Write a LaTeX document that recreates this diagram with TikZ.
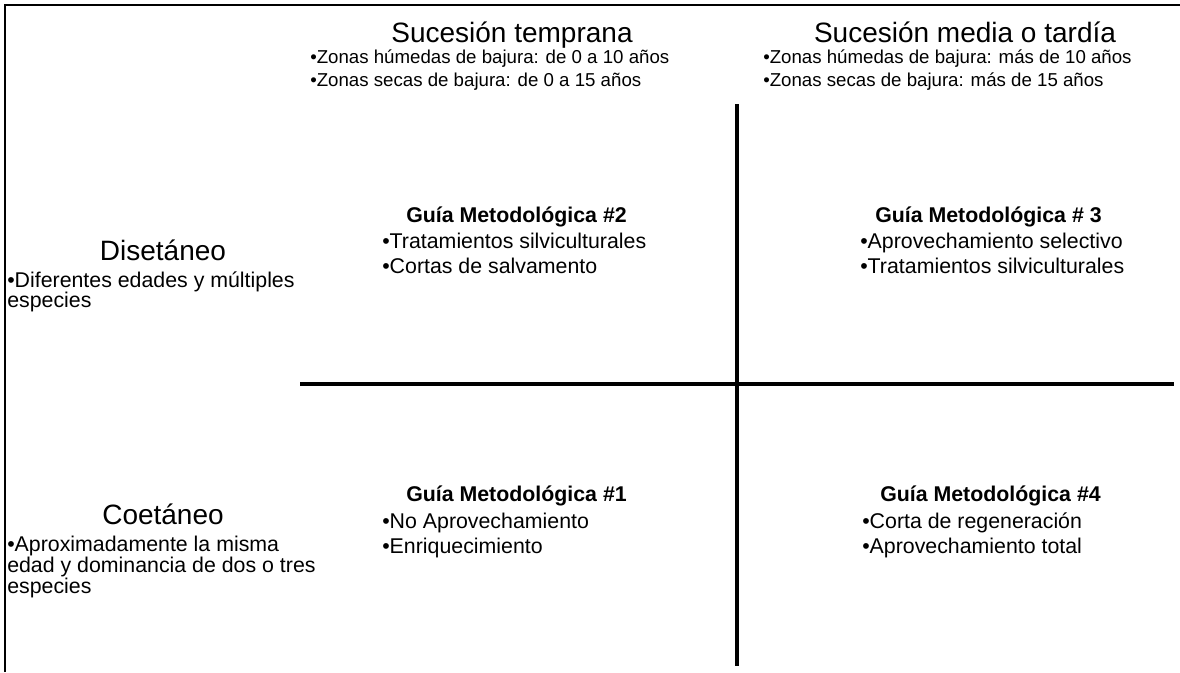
\documentclass[tikz,border=0pt]{standalone}
\usepackage{fontspec}
\setmainfont{Liberation Sans}
\begin{document}
\begin{tikzpicture}[x=0.75pt,y=-0.75pt,
  title/.style={font=\fontsize{21}{25}\selectfont, anchor=base, inner sep=0pt},
  small/.style={font=\fontsize{14}{17}\selectfont, anchor=base west, inner sep=0pt},
  item/.style={font=\fontsize{16}{19}\selectfont, anchor=base west, inner sep=0pt},
  head/.style={font=\bfseries\fontsize{16}{19}\selectfont, anchor=base west, inner sep=0pt},
  axis/.style={line width=2.4pt, line cap=butt},
  frame/.style={line width=1.6pt}]
\useasboundingbox (0,0) rectangle (1180,672);
% frame
\coordinate (fbl) at (5,672);
\coordinate (ftl) at (5,5);
\coordinate (ftr) at (1180,5);
\draw[frame] (fbl) -- (ftl) -- (ftr);
% axes
\coordinate (vtop) at (737,104);
\coordinate (vbot) at (737,666);
\coordinate (hl) at (300,384);
\coordinate (hr) at (1174,384);
\draw[axis] (vtop) -- (vbot);
\draw[axis] (hl) -- (hr);
% column headers
\node[title] (t1) at (512,42) {Sucesión temprana};
\node[small] (b1) at (310,63) {•Zonas húmedas de bajura: de 0 a 10 años};
\node[small] (b2) at (310,86) {•Zonas secas de bajura: de 0 a 15 años};
\node[title] (t2) at (965,42) {Sucesión media o tardía};
\node[small] (b3) at (763,63) {•Zonas húmedas de bajura: más de 10 años};
\node[small] (b4) at (763,86) {•Zonas secas de bajura: más de 15 años};
% row headers
\node[title] (r1) at (163,260) {Disetáneo};
\node[item] (r1a) at (7,287) {•Diferentes edades y múltiples};
\node[item] (r1b) at (7,307) {especies};
\node[title] (r2) at (163,524) {Coetáneo};
\node[item] (r2a) at (7,551) {•Aproximadamente la misma};
\node[item] (r2b) at (7,572) {edad y dominancia de dos o tres};
\node[item] (r2c) at (7,593) {especies};
% quadrants
\node[head] (g2) at (406,222) {Guía Metodológica \#2};
\node[item] (g2a) at (382,248) {•Tratamientos silviculturales};
\node[item] (g2b) at (382,273) {•Cortas de salvamento};
\node[head] (g3) at (875,222) {Guía Metodológica \# 3};
\node[item] (g3a) at (860,248) {•Aprovechamiento selectivo};
\node[item] (g3b) at (860,273) {•Tratamientos silviculturales};
\node[head] (g1) at (406,501) {Guía Metodológica \#1};
\node[item] (g1a) at (382,528) {•No Aprovechamiento};
\node[item] (g1b) at (382,553) {•Enriquecimiento};
\node[head] (g4) at (880,501) {Guía Metodológica \#4};
\node[item] (g4a) at (862,528) {•Corta de regeneración};
\node[item] (g4b) at (862,553) {•Aprovechamiento total};
\end{tikzpicture}
\end{document}
